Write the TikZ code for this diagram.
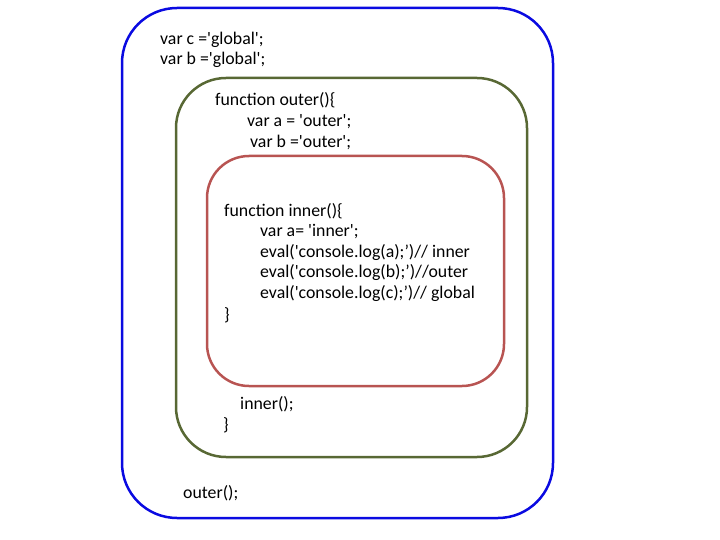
\documentclass[tikz,border=0pt]{standalone}
\usepackage{fontspec}
\setmainfont{Carlito}[Ligatures=TeXOff]
\definecolor{scopeblue}{RGB}{10,10,225}
\definecolor{scopegreen}{RGB}{88,104,52}
\definecolor{scopered}{RGB}{184,84,82}
\tikzset{
	scopebox/.style={rounded corners=#1, line width=2.5pt},
	code/.style={anchor=west, inner sep=0pt, font=\fontsize{17.8}{20}\selectfont, text height=13pt, text depth=4pt}
}
\begin{document}
\begin{tikzpicture}[x=1pt, y=-1pt]

	\useasboundingbox (0, 0) rectangle (720, 540);

% the three scopes
\draw[scopebox=55pt, scopeblue] (122, 8) rectangle (553, 518);
\draw[scopebox=50pt, scopegreen] (176, 78) rectangle (527, 457);
\draw[scopebox=42pt, scopered] (207, 156) rectangle (504, 386);

% global scope
\node[code] (globc) at (160, 40) {var c ='global';};
\node[code] (globb) at (160, 60) {var b ='global';};
\node[code] (callouter) at (183, 494) {outer();};

% outer scope
\node[code] (outerhead) at (215, 101) {function outer()\{};
\node[code] (outera) at (247, 122) {var a = 'outer';};
\node[code] (outerb) at (250, 143) {var b ='outer';};
\node[code] (callinner) at (240, 405) {inner();};
\node[code] (outerend) at (223, 426) {\}};

% inner scope
\node[code] (innerhead) at (224, 212) {function inner()\{};
\foreach \y/\name/\text in {
	232/innera/{var a= 'inner';},
	253/evala/{eval('console.log(a);’)// inner},
	273/evalb/{eval('console.log(b);’)//outer},
	294/evalc/{eval('console.log(c);’)// global}}
\node[code] (\name) at (260, \y) {\text};
\node[code] (innerend) at (224, 316) {\}};

\end{tikzpicture}
\end{document}
